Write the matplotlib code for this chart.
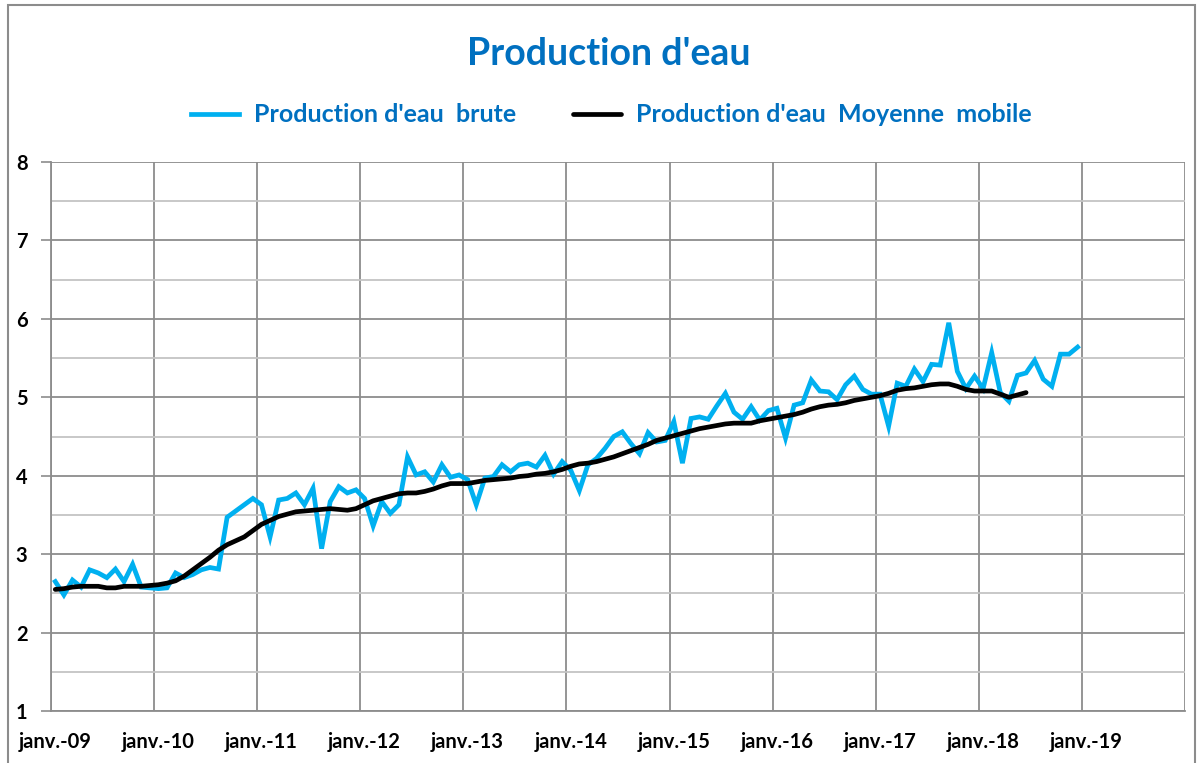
import numpy as np
import matplotlib.pyplot as plt
from matplotlib.patches import Rectangle
from matplotlib.ticker import MultipleLocator

plt.rcParams['font.family'] = ['Lato', 'DejaVu Sans']

# monthly production, jan 2009 .. dec 2018
brute = [2.65, 2.48, 2.67, 2.58, 2.80, 2.76, 2.70, 2.81, 2.65, 2.87, 2.58, 2.57,
         2.56, 2.57, 2.76, 2.70, 2.74, 2.80, 2.83, 2.81, 3.47, 3.55, 3.63, 3.71,
         3.63, 3.22, 3.69, 3.71, 3.78, 3.63, 3.84, 3.07, 3.67, 3.86, 3.78, 3.82,
         3.71, 3.36, 3.67, 3.52, 3.63, 4.24, 4.01, 4.05, 3.92, 4.14, 3.98, 4.01,
         3.95, 3.63, 3.97, 3.99, 4.14, 4.05, 4.14, 4.16, 4.11, 4.26, 4.02, 4.18,
         4.07, 3.81, 4.14, 4.22, 4.35, 4.50, 4.56, 4.41, 4.28, 4.55, 4.43, 4.45,
         4.69, 4.16, 4.73, 4.75, 4.72, 4.89, 5.05, 4.81, 4.72, 4.88, 4.71, 4.83,
         4.86, 4.48, 4.90, 4.93, 5.22, 5.08, 5.07, 4.97, 5.16, 5.27, 5.10, 5.04,
         5.04, 4.63, 5.18, 5.14, 5.36, 5.20, 5.42, 5.41, 5.95, 5.33, 5.11, 5.27,
         5.11, 5.57, 5.06, 4.95, 5.28, 5.31, 5.47, 5.23, 5.14, 5.55, 5.55, 5.64]

# moving average, jan 2009 .. jun 2018
moyenne = [2.55, 2.56, 2.58, 2.59, 2.59, 2.59, 2.57, 2.57, 2.59, 2.59, 2.59, 2.60,
           2.61, 2.63, 2.66, 2.72, 2.80, 2.88, 2.96, 3.05, 3.12, 3.17, 3.22, 3.30,
           3.38, 3.43, 3.48, 3.51, 3.54, 3.55, 3.56, 3.57, 3.58, 3.57, 3.56, 3.58,
           3.63, 3.68, 3.71, 3.74, 3.77, 3.78, 3.78, 3.80, 3.83, 3.87, 3.90, 3.90,
           3.90, 3.92, 3.94, 3.95, 3.96, 3.97, 3.99, 4.00, 4.02, 4.03, 4.05, 4.08,
           4.12, 4.15, 4.16, 4.18, 4.21, 4.24, 4.28, 4.32, 4.36, 4.40, 4.45, 4.48,
           4.51, 4.54, 4.57, 4.60, 4.62, 4.64, 4.66, 4.67, 4.67, 4.67, 4.70, 4.72,
           4.74, 4.76, 4.78, 4.81, 4.85, 4.88, 4.90, 4.91, 4.93, 4.96, 4.98, 5.00,
           5.02, 5.05, 5.09, 5.11, 5.12, 5.14, 5.16, 5.17, 5.17, 5.14, 5.10, 5.08,
           5.08, 5.08, 5.04, 5.00, 5.03, 5.06]

year_labels = ['janv.-09', 'janv.-10', 'janv.-11', 'janv.-12', 'janv.-13', 'janv.-14',
               'janv.-15', 'janv.-16', 'janv.-17', 'janv.-18', 'janv.-19']

blue_txt = '#0070C0'

fig = plt.figure(figsize=(12.01, 7.63), dpi=100)
ax = fig.add_axes([51/1201, 52/763, 1134/1201, 549/763])

# points sit in the middle of each month category
x_b = np.arange(len(brute)) + 0.5
x_m = np.arange(len(moyenne)) + 0.5
ax.plot(x_b, brute, color='#00B0F0', lw=3.4, solid_joinstyle='miter',
        label="Production d'eau  brute")
ax.plot(x_m, moyenne, color='black', lw=3.4, solid_capstyle='round',
        label="Production d'eau  Moyenne  mobile")

ax.set_xlim(0, 132)
ax.set_ylim(1, 8)

ax.set_xticks(np.arange(0, 133, 12))
ax.set_xticklabels([])
ax.set_xticks(np.arange(len(year_labels)) * 12 + 0.5, minor=True)
ax.set_xticklabels(year_labels, minor=True)
ax.tick_params(axis='x', which='both', length=0, pad=15, labelsize=14.5)

ax.yaxis.set_major_locator(MultipleLocator(1))
ax.yaxis.set_minor_locator(MultipleLocator(0.5))
ax.tick_params(axis='y', which='major', length=7, width=1.2, color='#8c8c8c',
               pad=10, labelsize=14.5)
ax.tick_params(axis='y', which='minor', length=0)
for lab in ax.get_xticklabels(minor=True) + ax.get_yticklabels():
    lab.set_fontweight('bold')

ax.grid(True, which='major', color='#8c8c8c', lw=1.3)
ax.grid(True, which='minor', axis='y', color='#c4c4c4', lw=1.3)
ax.set_axisbelow(True)
for s in ['top', 'right']:
    ax.spines[s].set_visible(False)
for s in ['left', 'bottom']:
    ax.spines[s].set_color('#8c8c8c')
    ax.spines[s].set_linewidth(1.3)

fig.text(0.507, 1 - 54/763, "Production d'eau", ha='center', va='center',
         fontsize=27, fontweight='bold', color=blue_txt)

leg = fig.legend(loc='center', bbox_to_anchor=(0.509, 1 - 115/763), ncol=2,
                 frameon=False, handlelength=1.9, handletextpad=0.6,
                 columnspacing=2.3, prop={'size': 18, 'weight': 'bold'})
for t in leg.get_texts():
    t.set_color(blue_txt)

# chart area border
fig.patches.append(Rectangle((8/1201, -0.01), 1187/1201, 1.0 - 5/763 + 0.01,
                             transform=fig.transFigure, fill=False,
                             edgecolor='#8c8c8c', lw=1.5))

fig.savefig('out.png', dpi=100)
